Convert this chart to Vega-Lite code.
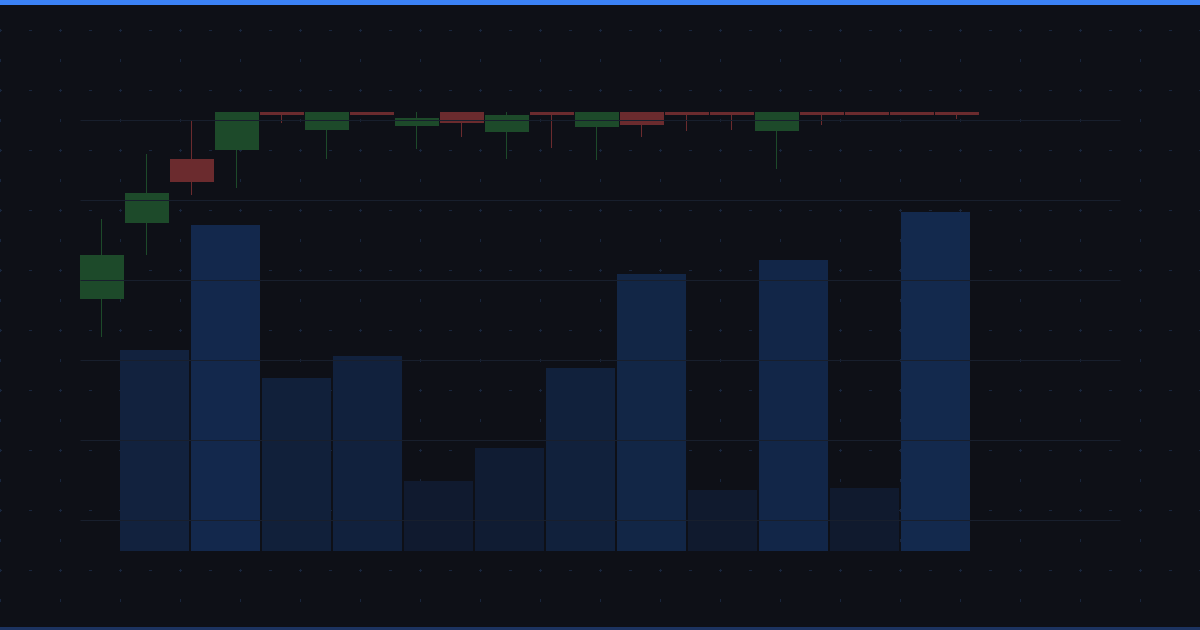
{
  "$schema": "https://vega.github.io/schema/vega-lite/v6.json",
  "width": 1200,
  "height": 630,
  "autosize": "none",
  "padding": 0,
  "background": "#0e1017",
  "config": {
    "view": {"stroke": null},
    "axis": {"labels": false, "ticks": false, "domain": false, "title": null, "minExtent": 0, "maxExtent": 0, "offset": 0}
  },
  "datasets": {
    "candles": [
      {"d": "D01", "o": 127.625, "h": 137.625, "l": 122.875, "c": 133.125, "dir": "up"},
      {"d": "D02", "o": 137.125, "h": 145.75, "l": 133.125, "c": 140.875, "dir": "up"},
      {"d": "D03", "o": 145.125, "h": 149.875, "l": 140.625, "c": 142.25, "dir": "down"},
      {"d": "D04", "o": 146.25, "h": 151, "l": 141.5, "c": 151, "dir": "up"},
      {"d": "D05", "o": 151, "h": 151, "l": 149.625, "c": 150.625, "dir": "down"},
      {"d": "D06", "o": 148.75, "h": 151, "l": 145.125, "c": 151, "dir": "up"},
      {"d": "D07", "o": 151, "h": 151, "l": 150.625, "c": 150.625, "dir": "down"},
      {"d": "D08", "o": 149.25, "h": 151, "l": 146.375, "c": 150.25, "dir": "up"},
      {"d": "D09", "o": 151, "h": 151, "l": 147.875, "c": 149.625, "dir": "down"},
      {"d": "D10", "o": 148.5, "h": 151, "l": 145.125, "c": 150.625, "dir": "up"},
      {"d": "D11", "o": 151, "h": 151, "l": 146.5, "c": 150.625, "dir": "down"},
      {"d": "D12", "o": 149.125, "h": 151, "l": 145, "c": 151, "dir": "up"},
      {"d": "D13", "o": 151, "h": 151, "l": 147.875, "c": 149.375, "dir": "down"},
      {"d": "D14", "o": 151, "h": 151, "l": 148.625, "c": 150.625, "dir": "down"},
      {"d": "D15", "o": 151, "h": 151, "l": 148.75, "c": 150.625, "dir": "down"},
      {"d": "D16", "o": 148.625, "h": 151, "l": 143.875, "c": 151, "dir": "up"},
      {"d": "D17", "o": 151, "h": 151, "l": 149.375, "c": 150.625, "dir": "down"},
      {"d": "D18", "o": 151, "h": 151, "l": 150.625, "c": 150.625, "dir": "down"},
      {"d": "D19", "o": 151, "h": 151, "l": 150.625, "c": 150.625, "dir": "down"},
      {"d": "D20", "o": 151, "h": 151, "l": 150.125, "c": 150.625, "dir": "down"}
    ],
    "volume": [
      {"w": "W01", "v": 2010000},
      {"w": "W02", "v": 3260000},
      {"w": "W03", "v": 1730000},
      {"w": "W04", "v": 1950000},
      {"w": "W05", "v": 700000},
      {"w": "W06", "v": 1030000},
      {"w": "W07", "v": 1830000},
      {"w": "W08", "v": 2770000},
      {"w": "W09", "v": 610000},
      {"w": "W10", "v": 2910000},
      {"w": "W11", "v": 630000},
      {"w": "W12", "v": 3390000}
    ]
  },
  "layer": [
    {
      "data": {"values": [{}]},
      "layer": [
        {
          "mark": {"type": "rule", "color": "#3b82f6", "strokeWidth": 10},
          "encoding": {
            "x": {"datum": 0, "type": "quantitative", "scale": {"domain": [0, 40], "nice": false, "zero": false},
              "axis": {"orient": "top", "values": [0,1,2,3,4,5,6,7,8,9,10,11,12,13,14,15,16,17,18,19,20,21,22,23,24,25,26,27,28,29,30,31,32,33,34,35,36,37,38,39,40], "grid": true, "gridColor": "#19263d", "gridWidth": 1, "gridDash": [3, 27], "gridDashOffset": 1.5}},
            "x2": {"datum": 40},
            "y": {"datum": 21, "type": "quantitative", "scale": {"domain": [0, 21], "nice": false, "zero": false},
              "axis": {"orient": "left", "values": [0,1,2,3,4,5,6,7,8,9,10,11,12,13,14,15,16,17,18,19,20,21], "grid": true, "gridColor": "#19263d", "gridWidth": 1, "gridDash": [3, 27], "gridDashOffset": 1.5}}
          }
        },
        {
          "mark": {"type": "rule", "color": "#1c3360", "strokeWidth": 6},
          "encoding": {
            "x": {"datum": 0, "type": "quantitative"},
            "x2": {"datum": 40},
            "y": {"datum": 0, "type": "quantitative"}
          }
        }
      ]
    },
    {
      "data": {"name": "volume"},
      "mark": {"type": "bar"},
      "encoding": {
        "x": {"field": "w", "type": "ordinal", "sort": null, "axis": null,
          "scale": {"type": "band", "range": [120, 970], "paddingInner": 0.028169, "paddingOuter": 0, "align": 0}},
        "y": {"field": "v", "type": "quantitative", "axis": null,
          "scale": {"domain": [-790000, 5510000], "nice": false, "zero": false}},
        "y2": {"datum": 0},
        "color": {"field": "v", "type": "quantitative", "legend": null,
          "scale": {"domain": [610000, 3390000], "range": ["#101a2e", "#13294d"], "interpolate": "rgb"}}
      }
    },
    {
      "data": {"name": "candles"},
      "encoding": {
        "x": {"field": "d", "type": "ordinal", "axis": null,
          "scale": {"type": "band", "domain": ["D01","D02","D03","D04","D05","D06","D07","D08","D09","D10","D11","D12","D13","D14","D15","D16","D17","D18","D19","D20","D21","D22","D23"], "range": [80, 1120], "paddingInner": 0.022222, "paddingOuter": 0.066667, "align": 0}},
        "color": {"field": "dir", "type": "nominal", "legend": null,
          "scale": {"domain": ["up", "down"], "range": ["#1d4a2a", "#6b2b2e"]}}
      },
      "layer": [
        {
          "mark": {"type": "rule", "strokeWidth": 1, "xOffset": -0.5},
          "encoding": {
            "x": {"field": "d", "type": "ordinal", "bandPosition": 0.5},
            "y": {"field": "l", "type": "quantitative",
              "scale": {"domain": [86.25, 165], "nice": false, "zero": false},
              "axis": {"orient": "left", "values": [100, 110, 120, 130, 140, 150], "grid": true, "gridColor": "#181f2d", "gridWidth": 1, "zindex": 1}},
            "y2": {"field": "h"}
          }
        },
        {
          "mark": {"type": "bar"},
          "encoding": {
            "y": {"field": "o", "type": "quantitative"},
            "y2": {"field": "c"}
          }
        }
      ]
    }
  ],
  "resolve": {"scale": {"x": "independent", "y": "independent", "color": "independent"}}
}
